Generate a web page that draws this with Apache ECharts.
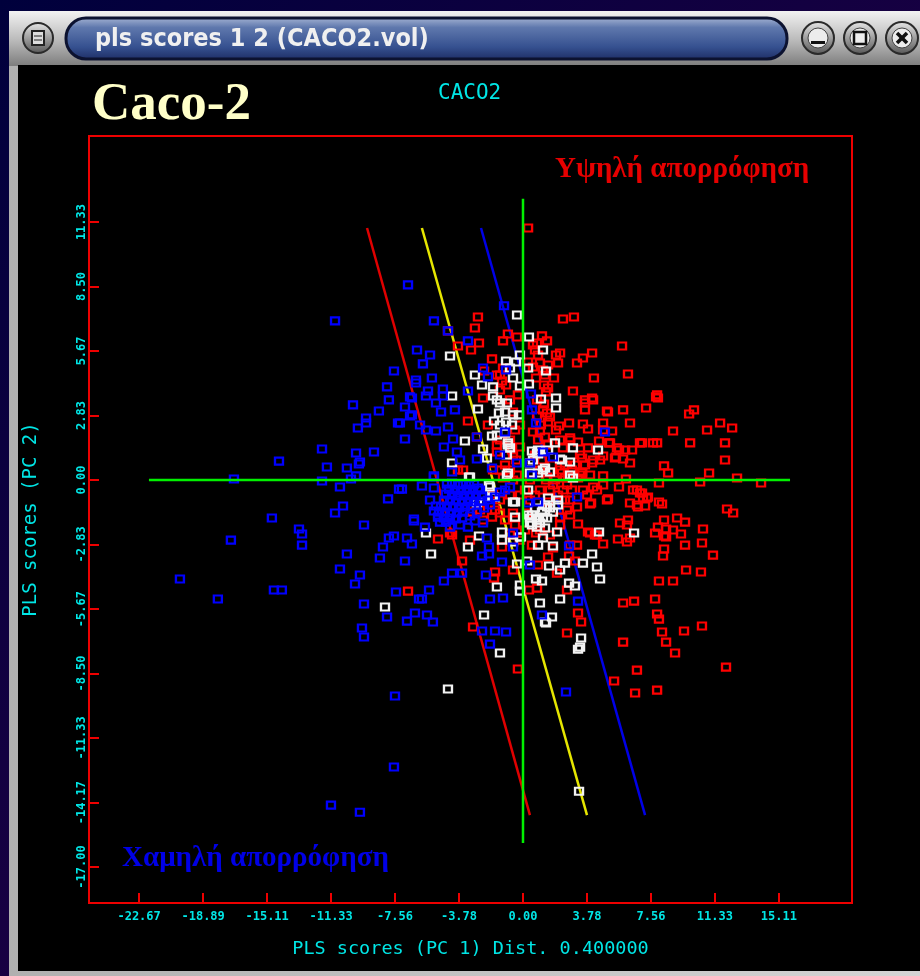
<!DOCTYPE html>
<html>
<head>
<meta charset="utf-8">
<title>pls scores 1 2 (CACO2.vol)</title>
<script src="https://cdn.jsdelivr.net/npm/echarts@6/dist/echarts.min.js"></script>
<style>
  html, body { margin: 0; padding: 0; background: #000; }
  #mainChart { width: 920px; height: 976px; }
</style>
</head>
<body>
<div id="mainChart"></div>
<script>
// tick labels of both axes
const xTicks = [-22.67, -18.89, -15.11, -11.33, -7.56, -3.78, 0, 3.78, 7.56, 11.33, 15.11];
const yTicks = [11.33, 8.5, 5.67, 2.83, 0, -2.83, -5.67, -8.5, -11.33, -14.17, -17];

// reference lines [x, y]
const crossH = [[-22.09, 0], [15.77, 0]];
const crossV = [[0, 12.35], [0, -15.95]];
const redLine = [[-9.21, 11.07], [0.41, -14.72]];
const yellowLine = [[-5.97, 11.07], [3.78, -14.72]];
const blueLine = [[-2.48, 11.07], [7.21, -14.72]];

// scores [PC1, PC2]
const bluePoints = [
  [-11.1,6.99],[-7.62,4.79],[-8.03,4.09],[-7.92,3.52],[-10.04,3.3],[-6.67,3.65],[-6.97,3.21],[-6.67,2.81],[-8.51,3.03],[-9.27,2.72],
  [-9.27,2.5],[-9.75,2.28],[-7.38,2.5],[-6.97,1.8],[-11.87,1.36],[-9.86,1.19],[-8.8,1.23],[-14.41,0.83],[-9.63,0.79],[-9.69,0.7],
  [-11.58,0.57],[-10.4,0.53],[-9.86,0.18],[-10.16,0.04],[-17.07,0.04],[-11.87,-0.04],[-10.81,-0.31],[-7.32,-0.4],[-7.97,-0.83],[-10.63,-1.14],
  [-11.1,-1.45],[-14.83,-1.67],[-9.39,-1.98],[-13.23,-2.15],[-13.05,-2.37],[-13.05,-2.86],[-17.25,-2.64],[-20.26,-4.35],[-18.02,-5.23],[-14.71,-4.83],
  [-14.24,-4.83],[-10.4,-3.25],[-10.81,-3.91],[-9.63,-4.17],[-9.92,-4.57],[-8.27,-2.94],[-7.92,-2.55],[-7.62,-2.46],[-6.85,-2.55],[-6.56,-2.81],
  [-8.45,-3.43],[-6.97,-3.56],[-6.44,-1.8],[-7.5,-4.92],[-6.14,-5.23],[-9.39,-5.45],[-8.03,-6.02],[-6.85,-6.2],[-6.38,-5.84],[-9.51,-6.5],
  [-9.39,-6.9],[-7.56,-9.49],[-7.62,-12.61],[-11.34,-14.28],[-9.63,-14.59],[-6.79,8.57],
  [-5.26,6.99],[-4.43,6.55],[-3.25,6.11],[-6.26,5.71],[-5.49,5.49],[-5.91,5.1],[-6.32,4.39],[-6.32,4.26],[-5.38,4.48],[-5.61,3.91],
  [-5.73,3.69],[-4.73,4],[-4.73,3.69],[-3.25,3.91],[-6.56,3.6],[-6.56,2.86],[-5.14,3.38],[-4.84,2.99],[-4.02,3.08],[-7.27,2.5],
  [-6.08,2.42],[-5.73,2.2],[-5.14,2.15],[-4.43,2.33],[-4.13,1.8],[-4.67,1.45],[-2.72,1.89],[-3.9,1.23],[-3.72,0.88],[-4.19,0.35],
  [-5.26,0.13],[-2.72,0.92],[-1.83,0.53],[-1.12,7.65],[-2.36,4.92],[-2.07,4.53],[-1,4.83],[0.47,3.78],[0.53,3.08],[0.77,2.5],
  [4.84,2.11],[-1.06,2.11],[-1.36,1.1],[0.41,0.75],[1.18,1.23],[1.77,1.01],[0.53,0.22],[-0.35,0.75],
  [-7.15,-0.4],[-5.97,-0.26],[-5.26,-0.35],[-5.26,0.18],[-5.49,-0.88],[-6.44,-1.71],[-5.79,-2.07],[-4.19,-4.09],[-3.6,-4.09],[-4.67,-4.44],
  [-2.42,-3.34],[-2.01,-3.25],[-2.01,-2.94],[-1.24,-3.6],[-2.19,-4.17],[-5.55,-4.83],[-5.97,-5.23],[-5.67,-5.93],[-5.32,-6.24],[-1.95,-5.23],
  [-1.18,-5.18],[-2.42,-6.63],[-1.65,-6.63],[-1,-6.68],[-1.95,-7.21],[3.25,-5.32],[1.12,-5.93],[0.41,-3.73],[2.72,-2.9],[3.19,-0.75],
  [0.89,-0.97],[0.3,-1.01],[-0.59,-2.94],[-0.59,-2.33],[-2.13,-2.55],[-3.25,-2.07],[-3.72,-1.98],[-2.36,-1.89],[-4.9,-1.85],[-4.31,-2.07],[2.54,-9.31],
  [-4.49,-0.18],[-4.19,-0.13],[-3.84,-0.22],[-3.54,-0.18],[-3.19,-0.22],[-2.89,-0.18],[-4.37,-0.4],[-4.02,-0.44],[-3.66,-0.48],[-3.31,-0.4],
  [-2.95,-0.44],[-2.66,-0.35],[-4.55,-0.62],[-4.19,-0.66],[-3.84,-0.7],[-3.48,-0.66],[-3.13,-0.7],[-2.78,-0.66],[-2.42,-0.7],[-4.67,-0.88],
  [-4.31,-0.92],[-3.96,-0.88],[-3.6,-0.97],[-3.25,-0.92],[-2.89,-0.97],[-2.54,-0.92],[-2.07,-0.88],[-5.14,-1.14],[-4.84,-1.19],[-4.49,-1.14],
  [-4.13,-1.19],[-3.78,-1.23],[-3.43,-1.19],[-3.07,-1.14],[-5.26,-1.36],[-4.96,-1.41],[-4.61,-1.41],[-4.25,-1.45],[-3.9,-1.45],[-3.54,-1.41],
  [-5.02,-1.63],[-4.67,-1.67],[-4.31,-1.67],[-3.96,-1.71],[-3.6,-1.67],[-3.13,-1.58],[-2.72,-1.41],[-2.3,-1.23],[-1.95,-1.1],[-1.65,-0.75],
  [-1.36,-0.53],[-1.06,-0.44],[-0.77,-0.31],[-2.54,-0.44],[-4.55,-1.85],[-2.84,-1.8]
];
const whitePoints = [
  [-0.35,7.25],[0.35,6.28],[1.18,5.71],[-4.31,5.45],[-1,5.23],[-0.41,5.18],[-0.18,5.49],[0.3,4.92],[1.36,4.79],[-2.84,4.61],
  [-2.42,4.17],[-1.77,4.09],[-0.59,4.48],[-0.18,4.13],[0.35,4.22],[-1.77,3.69],[-4.19,3.69],[1.06,3.56],[1.95,3.6],[1.95,3.16],
  [-2.66,3.12],[-1.36,3.38],[-0.95,3.38],[-1.42,2.94],[-0.59,2.86],[-0.24,2.86],[-1.71,2.59],[-1,2.55],[-1.54,1.98],[-1.06,2.06],
  [-1.83,1.93],[-3.43,1.71],[-2.36,1.36],[-2.13,0.97],[-0.89,1.54],[-0.95,1.1],[-4.19,0.75],[0.53,1.27],[0.89,1.32],[0.59,0.88],
  [0.89,1.14],[1.89,1.63],[1.48,1.32],[2.95,1.41],[4.43,1.32],[2.19,0.92],[2.78,0.79],[1.3,0.53],[0.89,0.31],[1.59,0.35],
  [-3.19,0.13],[2.78,0.22],[-0.95,0.22],[0.41,0.31],[-2.01,-0.22],[-1.71,-0.75],[-2.36,-0.7],[-2.72,-1.01],[-0.59,-0.97],[-0.47,-1.63],
  [0.3,-1.54],[0.83,-1.67],[1.42,-1.67],[0.53,-1.98],[1,-1.89],[1.48,-0.79],[2.07,-1.1],[1.77,-1.41],[1.3,-2.11],[2.01,-2.28],
  [1.18,-2.55],[0.89,-2.86],[1.77,-2.9],[4.49,-2.28],[6.56,-2.33],[-1.24,-2.28],[-0.12,-2.5],[-2.6,-2.46],[-3.25,-2.94],[-5.73,-2.33],
  [-5.43,-3.25],[4.08,-3.25],[3.54,-3.65],[4.37,-3.82],[4.55,-4.35],[2.48,-3.65],[2.19,-3.95],[1.54,-3.78],[-0.35,-3.69],[0.24,-3.56],
  [0.77,-4.35],[1.12,-4.44],[2.72,-4.53],[3.07,-4.66],[-1.54,-4.7],[-0.18,-4.61],[-0.18,-4.88],[1,-5.4],[2.19,-5.23],[-2.3,-5.93],
  [1.71,-6.02],[1.3,-6.24],[3.43,-6.94],[3.37,-7.34],[3.25,-7.43],[-8.15,-5.58],[-4.43,-9.18],[3.31,-13.67],[-1.36,-7.6],[1.36,-6.28],
  [0.71,-1.23],[1.12,-1.41],[1.59,-1.23],[2.07,-0.88],[0.41,-1.67],[1.3,-1.1],[2.3,0.88],[1.18,0.44],[2.95,0.09],
  [-0.89,1.63],[-0.77,1.41],[0.83,1.19],[0.41,0.75],[-0.89,0.31],[-3.13,0.13],[-1.95,-0.31],[-1.83,-0.75],[-0.47,-0.97],[0.3,-0.44],
  [0.53,-1.54],[0.83,-1.76],[1.18,-1.63],[0.41,-1.89],[0.83,-2.07],[1.42,-1.19],[-1.24,-2.64],[-0.59,-2.72],[-0.18,-2.5],
  [-0.77,4.92],[-1.54,3.52],[-1.06,2.99],[-0.65,2.42],[-1.36,2.42]
];
const redPoints = [
  [-2.66,7.16],[-2.84,6.68],[-4.43,6.55],[-3.84,5.89],[-2.6,6.02],[-3.07,5.71],[2.36,7.07],[3.01,7.16],[5.85,5.89],[4.08,5.58],
  [-0.89,6.41],[-0.35,6.28],[-1.18,6.11],[1.12,6.33],[1.42,6.11],[0.83,6.02],[0.71,5.71],[2.19,5.58],[1.95,5.49],[3.54,5.36],
  [3.19,5.14],[2.07,5.14],[-1.83,5.32],[1,5.14],[0.59,4.96],[1.3,4.61],[0.3,5.18],[-2.3,4.79],[-1.36,4.61],[-1.24,4.35],
  [6.2,4.66],[4.19,4.48],[1.83,4.48],[1.24,4.17],[1.48,4.04],[2.95,3.91],[-2.36,3.6],[7.86,3.65],[4.08,3.6],[3.66,3.52],
  [4.14,3.52],[3.66,3.08],[7.27,3.16],[5.91,3.08],[4.96,3.03],[1.18,3.08],[1.42,2.94],[-3.25,2.59],[0.83,2.81],[-0.59,2.99],
  [-2.07,2.42],[1.48,2.55],[2.72,2.5],[3.54,2.46],[2.13,2.37],[3.84,2.24],[4.73,2.5],[6.32,2.5],[4.73,2.2],[5.26,2.15],
  [-2.72,1.89],[1,2.15],[2.78,1.85],[3.25,1.67],[1.3,1.89],[3.84,1.41],[5.14,1.63],[5.55,1.41],[6.91,1.63],[7.68,1.63],
  [6.03,1.32],[6.44,1.32],[5.43,0.97],[5.91,0.92],[4.73,1.05],[3.37,1.1],[4.55,0.88],[3.07,0.66],[3.66,0.66],[4.08,0.75],
  [2.36,1.41],[-0.18,1.45],[-0.59,1.1],[-1.54,1.23],[7.92,1.63],[4.73,0.18],[2.66,0.22],[3.49,0.31],[3.96,0.22],[2.48,0.09],
  [-3.84,0.44],[-3.54,0.44],
  [7.92,3.74],[7.97,3.6],[9.81,2.9],[10.1,3.08],[8.86,2.15],[10.87,2.2],[11.64,2.5],[12.35,2.28],[7.03,1.63],[9.87,1.63],
  [11.93,1.63],[11.93,0.88],[8.33,0.62],[8.57,0.31],[10.99,0.31],[8.03,-0.13],[10.46,-0.09],[12.64,0.09],[14.06,-0.13],[7.03,-0.57],
  [7.09,-0.79],[7.38,-0.75],[7.21,-1.14],[8.03,-0.97],[8.21,-1.05],[12.05,-1.27],[12.41,-1.45],[8.33,-1.76],[9.1,-1.67],[9.57,-1.85],
  [7.97,-2.07],[8.45,-2.15],[8.86,-2.2],[7.8,-2.33],[8.33,-2.46],[9.33,-2.37],[10.63,-2.15],[10.57,-2.77],[9.57,-2.86],[8.33,-3.03],
  [8.27,-3.34],[11.22,-3.3],[9.63,-3.95],[10.51,-4.04],[8.03,-4.44],[8.86,-4.44],[7.8,-5.23],[7.92,-5.89],[8.03,-6.11],[8.21,-6.68],
  [9.51,-6.63],[10.57,-6.41],[8.45,-7.12],[8.98,-7.6],[11.99,-8.22],[7.92,-9.23],[6.73,-8.35],[5.38,-8.83],[6.62,-9.36],[2.6,-6.72],
  [3.43,-6.24],[5.91,-7.12],[-0.3,-8.3],[0.3,11.07],
  [-1.18,0.09],[-0.35,0.22],[1.42,0.13],[3.37,0.22],[6.08,0.04],[1.77,-0.22],[2.6,-0.22],[4.73,-0.22],[4.37,-0.44],[5.67,-0.31],
  [6.5,-0.44],[6.91,-0.57],[7.32,-0.79],[6.32,-1.01],[6.73,-1.1],[4.96,-0.88],[4.02,-1.01],[3.78,-0.66],[3.19,-1.19],[2.78,-0.88],
  [2.36,-0.44],[2.19,-1.63],[3.25,-1.93],[2.6,-1.32],[5.73,-1.89],[6.14,-1.98],[6.2,-1.76],[6.32,-2.55],[6.14,-2.72],[5.61,-2.59],
  [3.96,-2.33],[4.37,-2.42],[4.73,-2.81],[3.19,-2.86],[1.77,-2.99],[0.53,-2.86],[0.77,-2.33],[-1.24,-2.94],[-3.01,-1.41],[-4.19,-2.42],
  [-5.02,-2.59],[-4.31,-2.33],[-1.83,-1.63],[-1.36,-1.45],[-2.36,-1.76],[-2.54,-1.32],[-3.13,-2.64],[-3.6,-3.56],[-1.65,-4.04],[-1.71,-4.31],
  [-0.59,-3.95],[1.48,-3.38],[0.89,-3.73],[2.01,-4.09],[3.07,-3.56],[2.72,-3.34],[0.35,-4.83],[0.83,-4.75],[2.6,-4.83],[-6.79,-4.88],
  [5.91,-5.4],[6.56,-5.32],[3.25,-5.84],[-2.95,-6.46],[-0.59,-1.45],[0.24,-1.45],[-0.59,0],[-1.77,-0.62],
  [3.66,3.38],[5.02,2.99],[4.49,1.71],[5.08,1.63],[5.67,1.32],[5.49,1.01],[6.32,0.75],[3.49,0.97],[4.14,0.88],[3.49,0.35],
  [4.14,-0.31],[6.73,-0.44],[6.79,-1.19],[5.02,-0.83],[3.96,-1.05],[2.78,-1.54],[3.84,-2.28],[4.25,-2.42],[8.45,-2.5],[2.78,-2.86],
  [2.78,1.76],[2.3,0.31],
  [0.59,5.93],[0.89,5.49],[1.18,4.83],[1.48,5.05],[0.77,4.48],[1.36,3.87],[0.83,3.52],[1.24,3.34],[1.59,2.77],[1.06,2.42],
  [0.59,2.11],[0.89,1.76],[1.48,1.54],[1.95,2.2],[2.19,1.76],[0.71,1.1],[1.12,0.88],[1.71,0.66],[2.19,0.44],[2.48,0.66],
  [1.36,0],[1.89,0],[2.89,0.44],[3.25,0.09],[-1.36,1.76],[-0.77,1.76],[-0.47,2.2],[-0.18,2.42],[-0.65,1.32],[-0.41,0.88],
  [-1.06,0.66],[-1.54,1.54],[-1.36,0.44],[-0.77,0.44],[-1.77,0.44],[-0.3,3.74],[-0.77,3.52],[-1.36,3.95],[-1,4.17],[-1.54,4.61],
  [-1.18,4.92],[1,0.44],[0.41,0],[0.12,-0.44],[1,-0.44],[1.59,-0.44],[2.07,-0.66],[2.48,-0.88],[1.48,-0.97],[-0.18,-0.66],
  [-0.77,-0.66],[-1.36,-0.88],[-1.65,-1.32],[-1.06,-1.76],[-0.47,-1.98],[0.12,-2.2],[1,-2.2],[1.59,-2.42],[2.19,-1.98],[-0.18,-2.64],
  [-0.77,-2.42],[0.71,-0.66],[0.41,-0.88],[2.89,-0.44],[3.54,-0.44]
];

const CYAN = "#00e6e6";
const RED = "#ee0000";
const MONO = "'DejaVu Sans Mono', monospace";
const SERIF = "'Liberation Serif', serif";

function scoreSeries(name, points, color) {
  return {
    name: name,
    type: "scatter",
    data: points,
    symbol: "rect",
    symbolSize: [8, 7],
    z: 5,
    itemStyle: { color: "rgba(0,0,0,0)", borderColor: color, borderWidth: 2.2, opacity: 1 },
    silent: true
  };
}
function lineSeries(points, color, z, width) {
  return {
    type: "line",
    data: points,
    showSymbol: false,
    silent: true,
    z: z,
    lineStyle: { color: color, width: width }
  };
}
function metalFill() {
  return new echarts.graphic.LinearGradient(0, 0, 0, 1, [
    { offset: 0, color: "#e8e8e8" }, { offset: 1, color: "#555" }]);
}
function roundButton(cx, cy, children) {
  return [
    { type: "circle", z: -1, shape: { cx: cx, cy: cy, r: 16 }, style: { fill: metalFill(), stroke: "#2a2a2a", lineWidth: 2 } },
    { type: "circle", z: -1, shape: { cx: cx, cy: cy, r: 10 }, style: { fill: "#ececec", stroke: "#444", lineWidth: 1 } }
  ].concat(children);
}

const chrome = [
  { type: "rect", z: -2, shape: { x: 0, y: 0, width: 920, height: 976 },
    style: { fill: new echarts.graphic.LinearGradient(0, 0, 1, 1, [
      { offset: 0, color: "#00003c" }, { offset: 1, color: "#2e0048" }]) } },
  { type: "rect", z: -2, shape: { x: 9, y: 11, width: 911, height: 965 },
    style: { fill: new echarts.graphic.LinearGradient(1, 0, 0, 0, [
      { offset: 0, color: "#d4d4d4" }, { offset: 1, color: "#b0b0b0" }]) } },
  { type: "rect", z: -2, shape: { x: 9, y: 11, width: 911, height: 55 },
    style: { fill: new echarts.graphic.LinearGradient(0, 0, 0, 1, [
      { offset: 0, color: "#f2f2f2" }, { offset: 0.55, color: "#b8b8b8" }, { offset: 1, color: "#7d7d7d" }]) } },
  { type: "rect", z: -2, shape: { x: 18, y: 65, width: 902, height: 906 }, style: { fill: "#000" } },
  { type: "rect", z: -1, shape: { x: 66, y: 18, width: 721, height: 41, r: 20 },
    style: { fill: new echarts.graphic.LinearGradient(0, 0, 0, 1, [
      { offset: 0, color: "#aab8d6" }, { offset: 0.25, color: "#5f78ad" },
      { offset: 0.7, color: "#35508f" }, { offset: 1, color: "#1d2c63" }]), stroke: "#0c1230", lineWidth: 3 } },
  { type: "text", z: -1, x: 95, y: 39,
    style: { text: "pls scores 1 2 (CACO2.vol)", fill: "#f0f0f0", font: "bold 25px 'DejaVu Sans Condensed', 'DejaVu Sans'", textVerticalAlign: "middle" } },
  { type: "circle", z: -1, shape: { cx: 38, cy: 38, r: 15 }, style: { fill: metalFill(), stroke: "#2a2a2a", lineWidth: 2 } },
  { type: "rect", z: -1, shape: { x: 32, y: 31, width: 12, height: 14 }, style: { fill: "#ddd", stroke: "#222", lineWidth: 2 } },
  { type: "line", z: -1, shape: { x1: 34, y1: 36, x2: 42, y2: 36 }, style: { stroke: "#222", lineWidth: 1 } },
  { type: "line", z: -1, shape: { x1: 34, y1: 40, x2: 42, y2: 40 }, style: { stroke: "#222", lineWidth: 1 } }
].concat(
  roundButton(818, 38, [{ type: "rect", z: -1, shape: { x: 811, y: 41, width: 14, height: 3 }, style: { fill: "#111" } }]),
  roundButton(860, 38, [{ type: "rect", z: -1, shape: { x: 854, y: 32, width: 12, height: 12 }, style: { fill: "#eee", stroke: "#111", lineWidth: 2.5 } }]),
  roundButton(902, 38, [
    { type: "line", z: -1, shape: { x1: 897, y1: 33, x2: 907, y2: 43 }, style: { stroke: "#111", lineWidth: 3.5 } },
    { type: "line", z: -1, shape: { x1: 907, y1: 33, x2: 897, y2: 43 }, style: { stroke: "#111", lineWidth: 3.5 } }
  ]),
  [
    { type: "text", z: 10, x: 92, y: 105,
      style: { text: "Caco-2", fill: "#ffffc8", font: "bold 53px " + SERIF, textVerticalAlign: "middle" } },
    { type: "text", z: 10, x: 438, y: 94,
      style: { text: "CACO2", fill: CYAN, font: "21px " + MONO, textVerticalAlign: "middle" } },
    { type: "text", z: 10, x: 555, y: 170,
      style: { text: "Υψηλή απορρόφηση", fill: "#e60000", font: "bold 29px " + SERIF, textVerticalAlign: "middle" } },
    { type: "text", z: 10, x: 122, y: 859,
      style: { text: "Χαμηλή απορρόφηση", fill: "#0000e6", font: "bold 29px " + SERIF, textVerticalAlign: "middle" } }
  ]
);

const tickStyle = { show: true, inside: true, length: 10, lineStyle: { color: RED, width: 2 } };

const option = {
  animation: false,
  backgroundColor: "#000",
  graphic: { elements: chrome },
  grid: { show: true, left: 89, top: 136, width: 763, height: 767, borderColor: RED, borderWidth: 2, backgroundColor: "transparent" },
  xAxis: {
    type: "value",
    min: -25.63,
    max: 19.43,
    splitLine: { show: false },
    axisLine: { show: false, onZero: false },
    axisTick: Object.assign({ customValues: xTicks }, tickStyle),
    axisLabel: { customValues: xTicks, color: CYAN, fontFamily: MONO, fontWeight: "bold", fontSize: 12, margin: 8, formatter: v => v.toFixed(2) },
    name: "PLS scores (PC 1) Dist. 0.400000",
    nameLocation: "middle",
    nameGap: 37,
    nameTextStyle: { color: CYAN, fontFamily: MONO, fontSize: 18.5 }
  },
  yAxis: {
    type: "value",
    min: -18.58,
    max: 15.11,
    splitLine: { show: false },
    axisLine: { show: false, onZero: false },
    axisTick: Object.assign({ customValues: yTicks }, tickStyle),
    axisLabel: { customValues: yTicks, rotate: 90, color: CYAN, fontFamily: MONO, fontWeight: "bold", fontSize: 12, margin: 1, formatter: v => v.toFixed(2) },
    name: "PLS scores (PC 2)",
    nameLocation: "middle",
    nameGap: 48,
    nameRotate: 90,
    nameTextStyle: { color: CYAN, fontFamily: MONO, fontSize: 19 }
  },
  series: [
    lineSeries(redLine, "#e00000", 2, 2.5),
    lineSeries(yellowLine, "#e6e600", 2, 2.5),
    lineSeries(blueLine, "#0000e6", 2, 2.5),
    scoreSeries("high", redPoints, "#ff0000"),
    scoreSeries("mid", whitePoints, "#f2f2f2"),
    scoreSeries("low", bluePoints, "#0000ff"),
    lineSeries(crossH, "#00f000", 7, 2.5),
    lineSeries(crossV, "#00f000", 7, 2.5)
  ]
};

const chart = echarts.init(document.getElementById("mainChart"), null, { renderer: "canvas" });
chart.setOption(option);
</script>
</body>
</html>
